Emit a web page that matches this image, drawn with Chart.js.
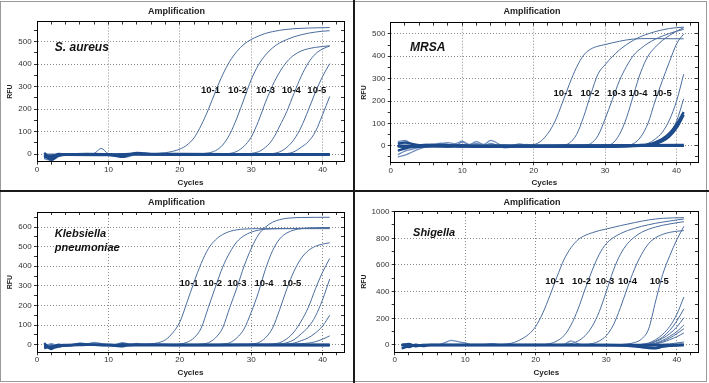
<!DOCTYPE html>
<html><head><meta charset="utf-8">
<script src="https://cdn.jsdelivr.net/npm/chart.js@4.4.0/dist/chart.umd.min.js"></script>
<style>
html,body{margin:0;padding:0;background:#fff;}
#wrap{position:relative;width:709px;height:383px;overflow:hidden;background:#fff;}
canvas{position:absolute;}
.div{position:absolute;background:#1a1a1a;}
#frame{position:absolute;left:0;top:1px;width:707px;height:381px;border:1px solid #9a9a9a;box-sizing:border-box;}
</style></head><body>
<div id="wrap">
<canvas id="c1" width="353" height="190" style="left:0;top:0"></canvas>
<canvas id="c2" width="354" height="190" style="left:355px;top:0"></canvas>
<canvas id="c3" width="353" height="191" style="left:0;top:192px"></canvas>
<canvas id="c4" width="354" height="191" style="left:355px;top:192px"></canvas>
<div id="frame"></div>
<div class="div" style="left:353px;top:0;width:2px;height:383px"></div>
<div class="div" style="left:0;top:190px;width:709px;height:2px"></div>
</div>
<script>
// ---------------- shared ticks / labels ----------------
const cycleTicks = [0,2,4,6,8,10,12,14,16,18,20,22,24,26,28,30,32,34,36,38,40,42];
const cycleLabels = [0,10,20,30,40];
const dilutionLabels = ['10-1','10-2','10-3','10-4','10-5'];

// ---------------- Panel 1: S. aureus ----------------
const p1YTicks = [0,50,100,150,200,250,300,350,400,450,500,550];
const p1YLabels = [0,100,200,300,400,500];
const p1Species = ['S. aureus'];
const p1SpeciesAt = [[2.5,474]];
const p1DilX = [24.3,28.1,32.0,35.6,39.2];
const p1DilY = 281;
const sa_f1 = [[1,-15],[2,-10],[3,-4],[5,-2],[8,-1],[12,-3],[15,-2],[20,-3],[25,-3],[30,-3],[35,-3],[41,-3]];
const sa_f2 = [[1,5],[2,-18],[3,0],[4,-2],[7,0],[10,-1],[11,-5],[12,-2],[14,2],[16,0],[20,0],[30,-1],[41,-2]];
const sa_f3 = [[1,-5],[2,-25],[3,-8],[4,-3],[10,-4],[11,-8],[12,-12],[13,-3],[14,5],[15,2],[16,-1],[20,-2],[41,-1]];
const sa_f4 = [[1,-20],[2,-28],[3,-10],[4,-5],[10,-3],[11,-6],[12,-14],[13,-10],[14,0],[15,-5],[16,-2],[41,-4]];
const sa_bump = [[1,0],[7,0],[8,3],[9,25],[10,2],[11,0],[17,0],[41,-2]];
const sa_d1 = [[1,-5],[5,-2],[10,0],[15,0],[17,3],[18,6],[19,12],[20,22],[21,40],[22,72],[23,128],[24,198],[25,278],[26,352],[27,412],[28,456],[29,488],[30,509],[31,524],[32,536],[33,544],[34,550],[35,554],[36,557],[38,560],[41,562]];
const sa_d2 = [[1,-3],[10,0],[20,0],[23,2],[24,5],[25,15],[26,40],[27,88],[28,160],[29,245],[30,330],[31,395],[32,440],[33,472],[34,494],[35,509],[36,521],[37,530],[38,537],[39,542],[40,546],[41,548]];
const sa_d3 = [[1,-4],[10,-1],[20,-2],[26,0],[27,3],[28,12],[29,35],[30,75],[31,145],[32,230],[33,305],[34,365],[35,410],[36,440],[37,458],[38,468],[39,474],[40,478],[41,481]];
const sa_d4 = [[1,-2],[15,-1],[25,-2],[29,0],[30,3],[31,10],[32,30],[33,65],[34,125],[35,190],[36,270],[37,345],[38,405],[39,445],[40,467],[41,480]];
const sa_d5 = [[1,-3],[20,-2],[32,0],[33,2],[34,10],[35,30],[36,65],[37,120],[38,195],[39,275],[40,345],[41,402]];
const sa_d6 = [[1,-4],[20,-2],[34,0],[35,2],[36,10],[37,30],[38,55],[39,100],[40,175],[41,256]];

// ---------------- Panel 2: MRSA ----------------
const p2YTicks = [-50,0,50,100,150,200,250,300,350,400,450,500];
const p2YLabels = [0,100,200,300,400,500];
const p2Species = ['MRSA'];
const p2SpeciesAt = [[2.7,438]];
const p2DilX = [24.1,27.9,31.6,34.6,38.0];
const p2DilY = 236;
const mr_f1 = [[1,-50],[2,-42],[3,-28],[4,-14],[5,-5],[6,0],[7,4],[8,6],[9,-3],[10,-6],[11,2],[12,5],[13,-2],[14,-3],[15,1],[16,3],[17,-1],[18,0],[20,-2],[25,-4],[30,-1],[35,-2],[41,0]];
const mr_f2 = [[1,-40],[2,-24],[3,-16],[4,-7],[5,-2],[6,3],[7,12],[8,6],[9,0],[10,16],[11,6],[12,18],[13,6],[14,24],[15,10],[16,-6],[17,0],[18,8],[19,2],[20,-4],[22,0],[41,0]];
const mr_f3 = [[1,18],[2,24],[3,6],[4,0],[5,6],[6,-2],[7,8],[8,14],[9,9],[10,20],[11,4],[12,10],[13,1],[14,10],[15,0],[16,-9],[17,-6],[18,0],[19,6],[20,0],[41,0]];
const mr_f4 = [[1,10],[2,14],[3,8],[4,2],[5,-2],[6,0],[8,-3],[10,2],[12,-4],[14,0],[41,0]];
const mr_f5 = [[1,-22],[2,-12],[3,-6],[4,-4],[5,0],[7,2],[9,0],[13,-4],[16,-2],[41,3]];
const mr_f6 = [[1,0],[2,-5],[3,-1],[6,4],[10,0],[41,0]];
const mr_d1 = [[1,-5],[5,0],[10,2],[15,0],[19,2],[20,5],[21,20],[22,55],[23,110],[24,190],[25,275],[26,350],[27,405],[28,432],[29,445],[30,452],[31,460],[32,467],[33,473],[34,477],[36,479],[41,478]];
const mr_d2 = [[1,0],[10,0],[20,0],[24,3],[25,12],[26,50],[27,130],[28,230],[29,320],[30,362],[31,398],[32,428],[33,452],[34,472],[35,488],[36,500],[37,510],[38,518],[39,524],[40,528],[41,530]];
const mr_d3 = [[1,-3],[20,0],[27,2],[28,10],[29,45],[30,120],[31,205],[32,290],[33,355],[34,405],[35,435],[36,458],[37,476],[38,490],[39,502],[40,512],[41,520]];
const mr_d4 = [[1,0],[20,-2],[30,2],[31,10],[32,50],[33,125],[34,230],[35,330],[36,400],[37,440],[38,470],[39,493],[40,512],[41,528]];
const mr_d5 = [[1,-2],[20,0],[33,2],[34,10],[35,40],[36,100],[37,200],[38,290],[39,375],[40,455],[41,500]];
const mr_d6 = [[1,-3],[20,-2],[35,2],[36,10],[37,30],[38,60],[39,115],[40,200],[41,320]];
const mr_d7 = [[1,0],[20,-3],[36,2],[37,8],[38,25],[39,55],[40,110],[41,210]];
const mr_d8 = [[1,-2],[30,-5],[34,0],[35,3],[36,6],[37,15],[38,30],[39,55],[40,95],[41,150]];
const mr_d9 = [[1,0],[30,-3],[35,0],[36,3],[37,8],[38,20],[39,42],[40,80],[41,138]];

// ---------------- Panel 3: Klebsiella pneumoniae ----------------
const p3YTicks = [0,50,100,150,200,250,300,350,400,450,500,550,600,650];
const p3YLabels = [0,100,200,300,400,500,600];
const p3Species = ['Klebsiella','pneumoniae'];
const p3SpeciesAt = [[2.5,566],[2.5,492]];
const p3DilX = [21.3,24.6,28.0,31.8,35.7];
const p3DilY = 315;
const kp_f1 = [[1,-18],[2,-10],[3,-4],[4,-2],[6,0],[10,-2],[15,0],[20,-2],[30,-1],[41,-2]];
const kp_f2 = [[1,8],[2,-22],[3,0],[4,-5],[5,-2],[6,3],[7,0],[10,0],[11,-4],[12,2],[13,-3],[14,0],[20,0],[41,0]];
const kp_f3 = [[1,-10],[2,5],[3,-8],[4,-2],[5,0],[6,8],[7,4],[8,12],[9,5],[10,-2],[11,0],[12,10],[13,2],[14,6],[15,0],[17,0],[41,0]];
const kp_f4 = [[1,-5],[2,-15],[3,-10],[4,-3],[6,-2],[8,0],[11,-6],[12,-8],[13,-2],[15,-3],[41,-3]];
const kp_d1 = [[1,-3],[5,0],[10,0],[15,2],[16,4],[17,10],[18,25],[19,60],[20,115],[21,215],[22,320],[23,415],[24,490],[25,535],[26,562],[27,578],[28,586],[29,590],[31,592],[35,592],[41,592]];
const kp_d2 = [[1,0],[10,0],[19,0],[20,3],[21,12],[22,35],[23,85],[24,190],[25,295],[26,395],[27,470],[28,525],[29,556],[30,574],[31,584],[32,589],[34,592],[41,595]];
const kp_d3 = [[1,-2],[15,0],[22,0],[23,3],[24,10],[25,35],[26,85],[27,190],[28,290],[29,400],[30,490],[31,560],[32,600],[33,625],[34,638],[35,645],[37,649],[41,650]];
const kp_d4 = [[1,0],[20,-2],[25,0],[26,3],[27,10],[28,35],[29,80],[30,165],[31,265],[32,385],[33,480],[34,540],[35,570],[36,585],[37,592],[39,597],[41,598]];
const kp_d5 = [[1,-2],[20,0],[29,0],[30,3],[31,10],[32,35],[33,85],[34,180],[35,285],[36,375],[37,440],[38,480],[39,502],[40,513],[41,520]];
const kp_d6 = [[1,0],[20,-2],[32,0],[33,3],[34,10],[35,30],[36,65],[37,120],[38,190],[39,285],[40,370],[41,440]];
const kp_d7 = [[1,-2],[20,0],[33,0],[34,3],[35,10],[36,25],[37,55],[38,90],[39,145],[40,230],[41,335]];
const kp_d8 = [[1,0],[20,-2],[34,0],[35,3],[36,8],[37,20],[38,35],[39,60],[40,95],[41,150]];
const kp_d9 = [[1,-2],[20,0],[35,0],[36,3],[37,5],[38,8],[39,15],[40,28],[41,45]];

// ---------------- Panel 4: Shigella ----------------
const p4YTicks = [0,100,200,300,400,500,600,700,800,900,1000];
const p4YLabels = [0,200,400,600,800,1000];
const p4Species = ['Shigella'];
const p4SpeciesAt = [[2.6,842]];
const p4DilX = [22.7,26.5,29.8,33.0,37.5];
const p4DilY = 475;
const sh_f1 = [[1,-25],[2,-10],[3,-3],[5,0],[10,0],[20,0],[30,-2],[33,-5],[35,-15],[37,-20],[38,-12],[39,-5],[41,0]];
const sh_f2 = [[1,5],[2,-15],[3,2],[4,-8],[5,0],[10,0],[15,0],[20,0],[25,0],[30,0],[34,-8],[36,-22],[37,-25],[38,-10],[40,0],[41,2]];
const sh_f3 = [[1,-30],[2,5],[3,-5],[6,0],[7,15],[8,35],[9,25],[10,15],[11,0],[13,5],[14,10],[15,0],[20,0],[24,5],[25,30],[26,8],[27,0],[41,0]];
const sh_f4 = [[1,0],[2,8],[3,-10],[4,0],[41,0]];
const sh_d1 = [[1,-10],[5,0],[10,0],[14,2],[15,3],[16,8],[17,20],[18,45],[19,80],[20,140],[21,240],[22,370],[23,510],[24,640],[25,730],[26,790],[27,822],[28,842],[29,858],[30,870],[32,895],[34,918],[36,938],[38,950],[41,955]];
const sh_d2 = [[1,0],[10,0],[20,2],[21,3],[22,10],[23,30],[24,70],[25,150],[26,270],[27,420],[28,560],[29,680],[30,760],[31,805],[32,835],[33,858],[34,875],[35,890],[36,902],[37,913],[38,922],[39,930],[40,938],[41,945]];
const sh_d3 = [[1,-3],[15,0],[23,0],[24,3],[25,10],[26,30],[27,70],[28,140],[29,250],[30,400],[31,560],[32,680],[33,760],[34,810],[35,845],[36,868],[37,885],[38,898],[39,908],[40,917],[41,925]];
const sh_d4 = [[1,0],[20,0],[26,0],[27,3],[28,10],[29,30],[30,70],[31,150],[32,280],[33,430],[34,570],[35,680],[36,760],[37,805],[38,830],[39,845],[40,853],[41,858]];
const sh_d5 = [[1,-2],[20,0],[31,0],[32,3],[33,8],[34,18],[35,45],[36,120],[37,330],[38,530],[39,670],[40,790],[41,890]];
const sh_l1 = [[1,0],[20,0],[34,0],[35,5],[36,15],[37,40],[38,80],[39,140],[40,230],[41,360]];
const sh_l2 = [[1,-2],[20,0],[34,0],[35,3],[36,10],[37,30],[38,60],[39,110],[40,180],[41,272]];
const sh_l3 = [[1,0],[20,-2],[34,0],[35,2],[36,8],[37,25],[38,50],[39,85],[40,135],[41,205]];
const sh_l4 = [[1,0],[20,0],[35,0],[36,5],[37,15],[38,35],[39,65],[40,100],[41,150]];
const sh_l5 = [[1,-2],[20,0],[35,0],[36,3],[37,12],[38,28],[39,52],[40,85],[41,122]];
const sh_l6 = [[1,0],[20,-2],[35,0],[36,2],[37,8],[38,20],[39,40],[40,62],[41,90]];
const sh_l7 = [[1,0],[20,0],[36,0],[37,2],[39,8],[40,15],[41,22]];

// ---------------- drawing ----------------
const FONT = "'Liberation Sans', Arial, Helvetica, sans-serif";
const STYLE = {
  thin:  {color:'#4a6c9e', width:1},
  dark:  {color:'#1d4a8a', width:2.5},
  light: {color:'#6d8dbd', width:1.3}
};
function ds(points, kind){
  const s = STYLE[kind];
  return {data: points, borderColor: s.color, borderWidth: s.width, pointRadius: 0,
          fill: false, cubicInterpolationMode: 'monotone', borderJoinStyle: 'round'};
}

const panelText = {
  id: 'panelText',
  afterDatasetsDraw(chart, args, o){
    const {ctx} = chart; const x = chart.scales.x, y = chart.scales.y;
    ctx.save();
    ctx.fillStyle = '#111';
    ctx.textBaseline = 'middle';
    ctx.textAlign = 'left';
    ctx.font = 'italic bold ' + o.speciesSize + 'px ' + FONT;
    o.species.forEach((t, i) => ctx.fillText(t, x.getPixelForValue(o.speciesAt[i][0]), y.getPixelForValue(o.speciesAt[i][1])));
    ctx.textAlign = 'center';
    ctx.font = 'bold 9.5px ' + FONT;
    o.dilLabels.forEach((t, i) => ctx.fillText(t, x.getPixelForValue(o.dilX[i]), y.getPixelForValue(o.dilY)));
    ctx.restore();
  }
};

function makePanel(id, p){
  const cv = document.getElementById(id);
  const W = cv.width, H = cv.height;
  const side = W - p.area.right;
  const majorY = new Set(p.yLabels);
  const majorX = new Set(cycleLabels);
  const tickFont = {family: FONT, size: 8};
  new Chart(cv, {
    type: 'line',
    data: {datasets: p.series},
    plugins: [panelText],
    options: {
      responsive: false, animation: false, devicePixelRatio: 1,
      layout: {padding: {left: side, right: side, top: p.titleY - 5.4, bottom: 0}},
      plugins: {
        legend: {display: false}, tooltip: {enabled: false},
        title: {display: true, text: 'Amplification', color: '#222',
                font: {family: FONT, size: 9, weight: 'bold', lineHeight: 1.2},
                padding: {top: 0, bottom: p.area.top - (p.titleY + 5.4)}},
        panelText: {species: p.species, speciesAt: p.speciesAt, speciesSize: p.speciesSize,
                    dilLabels: dilutionLabels, dilX: p.dilX, dilY: p.dilY}
      },
      scales: {
        x: {type: 'linear', position: 'bottom', min: 0, max: 43,
            afterBuildTicks: s => { s.ticks = cycleTicks.map(v => ({value: v})); },
            afterFit: s => { s.height = H - p.area.bottom; },
            ticks: {autoSkip: false, maxRotation: 0, padding: p.xTickPad, color: '#333', font: tickFont,
                    callback: v => majorX.has(v) ? String(v) : ''},
            grid: {color: c => (c.tick && majorX.has(c.tick.value)) ? '#8a8a8a' : 'rgba(0,0,0,0)',
                   tickColor: '#333', tickLength: 3, lineWidth: 1},
            border: {display: true, color: '#000', width: 1, dash: [1, 2]},
            title: {display: true, text: 'Cycles', color: '#222',
                    font: {family: FONT, size: 8, weight: 'bold', lineHeight: 1.2},
                    padding: {top: 0, bottom: p.xTitlePad}}},
        y: {type: 'linear', position: 'left', min: p.yMin, max: p.yMax,
            afterBuildTicks: s => { s.ticks = p.yTicks.map(v => ({value: v})); },
            afterFit: s => { s.width = p.area.left - side; },
            ticks: {autoSkip: false, padding: 2.3, color: '#333', font: tickFont,
                    callback: v => majorY.has(v) ? String(v) : ''},
            grid: {color: c => (c.tick && majorY.has(c.tick.value)) ? '#8a8a8a' : 'rgba(0,0,0,0)',
                   tickColor: '#333', tickLength: 3, lineWidth: 1},
            border: {display: true, color: '#000', width: 1, dash: [1, 2]},
            title: {display: true, text: 'RFU', color: '#222',
                    font: {family: FONT, size: 7, weight: 'bold', lineHeight: 1.2},
                    padding: {top: p.yTitleX - side - 4.2, bottom: 0}}},
        x2: {type: 'linear', position: 'top', min: 0, max: 43,
             afterBuildTicks: s => { s.ticks = cycleTicks.map(v => ({value: v})); },
             afterFit: s => { s.height = 0; },
             ticks: {display: false},
             grid: {drawOnChartArea: false, tickLength: -3, tickColor: '#333'},
             border: {display: true, color: '#000', width: 1}},
        y2: {type: 'linear', position: 'right', min: p.yMin, max: p.yMax,
             afterBuildTicks: s => { s.ticks = p.yTicks.map(v => ({value: v})); },
             afterFit: s => { s.width = 0; },
             ticks: {display: false},
             grid: {drawOnChartArea: false, tickLength: -3, tickColor: '#333'},
             border: {display: true, color: '#000', width: 1}}
      }
    }
  });
}

makePanel('c1', {
  area: {left: 37, right: 344, top: 21.5, bottom: 161.7}, titleY: 12, yTitleX: 10, xTitlePad: 2.2, xTickPad: 0.5,
  yMin: -34, yMax: 589, yTicks: p1YTicks, yLabels: p1YLabels,
  species: p1Species, speciesAt: p1SpeciesAt, speciesSize: 12, dilX: p1DilX, dilY: p1DilY,
  series: [ds(sa_f1,'dark'), ds(sa_f2,'dark'), ds(sa_f3,'dark'), ds(sa_f4,'light'), ds(sa_bump,'thin'),
           ds(sa_d1,'thin'), ds(sa_d2,'thin'), ds(sa_d3,'thin'), ds(sa_d4,'thin'), ds(sa_d5,'thin'), ds(sa_d6,'thin')]
});
makePanel('c2', {
  area: {left: 35.7, right: 343, top: 22.7, bottom: 162.3}, titleY: 12, yTitleX: 9, xTitlePad: 2.2, xTickPad: 0.5,
  yMin: -74, yMax: 550, yTicks: p2YTicks, yLabels: p2YLabels,
  species: p2Species, speciesAt: p2SpeciesAt, speciesSize: 12, dilX: p2DilX, dilY: p2DilY,
  series: [ds(mr_f4,'dark'), ds(mr_f5,'dark'), ds(mr_f6,'dark'), ds(mr_d8,'dark'), ds(mr_d9,'dark'),
           ds(mr_f1,'light'), ds(mr_f2,'light'), ds(mr_f3,'light'),
           ds(mr_d1,'thin'), ds(mr_d2,'thin'), ds(mr_d3,'thin'), ds(mr_d4,'thin'), ds(mr_d5,'thin'), ds(mr_d6,'thin'), ds(mr_d7,'thin')]
});
makePanel('c3', {
  area: {left: 37, right: 344, top: 20, bottom: 160.3}, titleY: 10.3, yTitleX: 10, xTitlePad: 5.2, xTickPad: 0,
  yMin: -39, yMax: 677, yTicks: p3YTicks, yLabels: p3YLabels,
  species: p3Species, speciesAt: p3SpeciesAt, speciesSize: 11, dilX: p3DilX, dilY: p3DilY,
  series: [ds(kp_f1,'dark'), ds(kp_f2,'dark'), ds(kp_f4,'dark'), ds(kp_f3,'light'),
           ds(kp_d1,'thin'), ds(kp_d2,'thin'), ds(kp_d3,'thin'), ds(kp_d4,'thin'), ds(kp_d5,'thin'),
           ds(kp_d6,'thin'), ds(kp_d7,'thin'), ds(kp_d8,'thin'), ds(kp_d9,'thin')]
});
makePanel('c4', {
  area: {left: 39.7, right: 343, top: 19, bottom: 160.3}, titleY: 10.3, yTitleX: 9, xTitlePad: 5.2, xTickPad: 0,
  yMin: -55, yMax: 1005, yTicks: p4YTicks, yLabels: p4YLabels,
  species: p4Species, speciesAt: p4SpeciesAt, speciesSize: 11, dilX: p4DilX, dilY: p4DilY,
  series: [ds(sh_f1,'dark'), ds(sh_f2,'dark'), ds(sh_f4,'dark'), ds(sh_f3,'light'),
           ds(sh_d1,'thin'), ds(sh_d2,'thin'), ds(sh_d3,'thin'), ds(sh_d4,'thin'), ds(sh_d5,'thin'),
           ds(sh_l1,'thin'), ds(sh_l2,'thin'), ds(sh_l3,'thin'), ds(sh_l4,'thin'), ds(sh_l5,'thin'), ds(sh_l6,'thin'), ds(sh_l7,'thin')]
});
</script>
</body></html>
